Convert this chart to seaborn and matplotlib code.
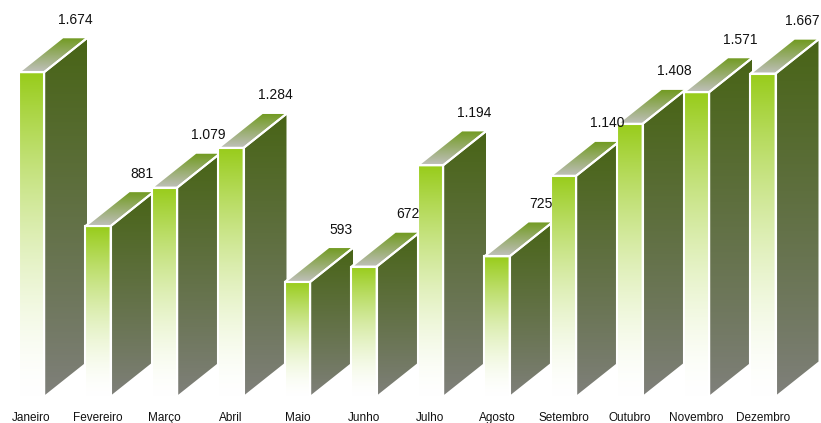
import numpy as np
import matplotlib
matplotlib.use("Agg")
import matplotlib.pyplot as plt
from matplotlib.patches import Polygon
import seaborn as sns

meses = ["Janeiro", "Fevereiro", "Março", "Abril", "Maio", "Junho",
         "Julho", "Agosto", "Setembro", "Outubro", "Novembro", "Dezembro"]
valores = [1674, 881, 1079, 1284, 593, 672, 1194, 725, 1140, 1408, 1571, 1667]

# depth of the extruded bars, in data units
DEPTH_X = 0.66
DEPTH_Y = 180

sns.set_theme(style="white")
plt.rcParams["font.family"] = ["Liberation Sans", "DejaVu Sans"]

fig = plt.figure(figsize=(8.21, 4.23), dpi=100)
ax = fig.add_axes([0, 0, 1, 1])

sns.barplot(x=meses, y=valores, width=0.38, color="white", ax=ax,
            edgecolor="white", linewidth=1.5)

ax.set_xlim(-0.474, 11.872)
ax.set_ylim(-134, 2046)
ax.axis("off")


def gradient(c_start, c_end, n=256, gamma=1.0):
    t = np.linspace(0, 1, n) ** gamma
    c0 = np.array(c_start) / 255.0
    c1 = np.array(c_end) / 255.0
    return (c0[None, :] * (1 - t[:, None]) + c1[None, :] * t[:, None])[:, None, :]


front_grad = gradient((255, 255, 255), (152, 204, 26), gamma=1.6)   # bottom -> top
side_grad = gradient((128, 128, 124), (72, 100, 22), gamma=0.9)     # bottom -> top
top_grad = gradient((192, 192, 188), (112, 154, 30))                # front -> back

value_texts = []
for i, bar in enumerate(ax.patches):
    x0 = bar.get_x()
    w = bar.get_width()
    h = bar.get_height()
    x1 = x0 + w
    z = 2 + i * 5

    # front face
    bar.set_facecolor("none")
    bar.set_zorder(z + 4)
    img = ax.imshow(front_grad, extent=[x0, x1, 0, h], origin="lower",
                    aspect="auto", zorder=z, interpolation="bilinear")
    img.set_clip_path(bar)

    # side face
    side = Polygon([(x1, 0), (x1 + DEPTH_X, DEPTH_Y), (x1 + DEPTH_X, h + DEPTH_Y), (x1, h)],
                   closed=True, facecolor="none", edgecolor="white", linewidth=1.5,
                   zorder=z + 3)
    ax.add_patch(side)
    img = ax.imshow(side_grad, extent=[x1, x1 + DEPTH_X, 0, h + DEPTH_Y], origin="lower",
                    aspect="auto", zorder=z + 1, interpolation="bilinear")
    img.set_clip_path(side)

    # top face
    top = Polygon([(x0, h), (x1, h), (x1 + DEPTH_X, h + DEPTH_Y), (x0 + DEPTH_X, h + DEPTH_Y)],
                  closed=True, facecolor="none", edgecolor="white", linewidth=1.5,
                  zorder=z + 3)
    ax.add_patch(top)
    img = ax.imshow(top_grad, extent=[x0, x1 + DEPTH_X, h, h + DEPTH_Y], origin="lower",
                    aspect="auto", zorder=z + 2, interpolation="bilinear")
    img.set_clip_path(top)

    # value label
    v = valores[i]
    t = ax.text(x0 + w / 2 + DEPTH_X, h + DEPTH_Y + 90, f"{v:,}".replace(",", "."),
                ha="center", va="center", fontsize=10, color="#111111", zorder=100)
    value_texts.append(t)

    # month label
    ax.text(x0 + w / 2, -108, meses[i], ha="center", va="center",
            fontsize=8.5, color="#111111", zorder=100)

# keep value labels inside the canvas
fig.canvas.draw()
renderer = fig.canvas.get_renderer()
fig_w = fig.bbox.width
for t in value_texts:
    bb = t.get_window_extent(renderer)
    overflow = bb.x1 - (fig_w - 1)
    if overflow > 0:
        x, y = t.get_position()
        xd, yd = ax.transData.transform((x, y))
        t.set_position(ax.transData.inverted().transform((xd - overflow, yd)))

fig.savefig("out.png", dpi=100, facecolor="white")
